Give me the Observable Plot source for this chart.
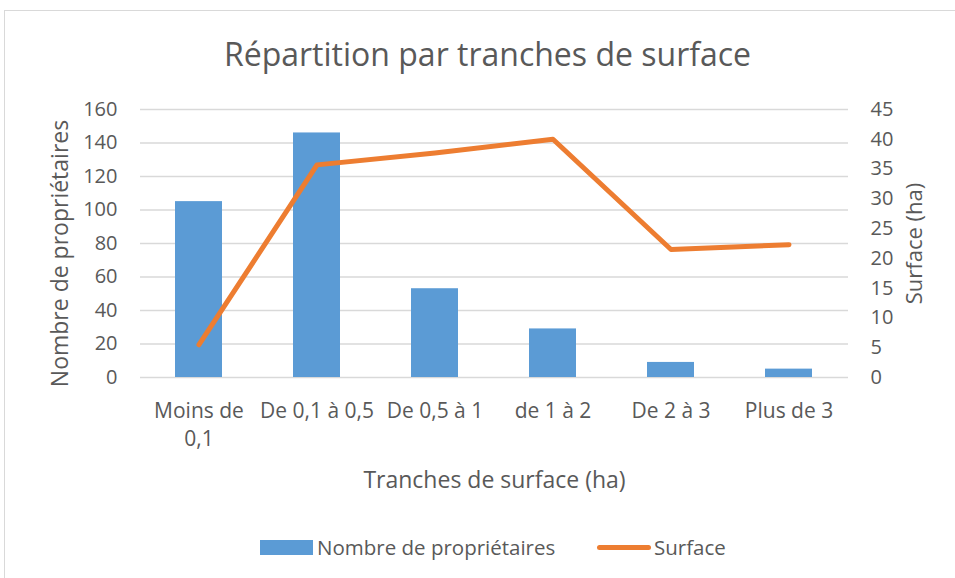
<!DOCTYPE html>
<html>
<head>
<meta charset="utf-8">
<script src="https://cdn.jsdelivr.net/npm/d3@7"></script>
<script src="https://cdn.jsdelivr.net/npm/@observablehq/plot@0.6"></script>
<style>
  html, body { margin: 0; padding: 0; background: #fff; }
  #root { position: relative; width: 955px; height: 578px; overflow: hidden; font-family: "Open Sans", sans-serif; color: #595959; }
  #border { position: absolute; left: 4px; top: 10px; width: 1000px; height: 600px; border: 1.5px solid #d9d9d9; box-sizing: border-box; }
  #title { position: absolute; left: 0; top: 32px; width: 975px; text-align: center; font-size: 32px; color: #595959; line-height: 44px; }
  #chart { position: absolute; left: 0; top: 90px; }
  #legend { position: absolute; top: 533px; left: 0; width: 955px; height: 30px; font-size: 20.5px; color: #595959; }
  .sw { position: absolute; }
</style>
</head>
<body>
<div id="root">
  <div id="border"></div>
  <div id="title">Répartition par tranches de surface</div>
  <div id="chart"></div>
  <div id="legend">
    <div class="sw" style="left:260px;top:7px;width:53px;height:15px;background:#5b9bd5"></div>
    <div class="sw" style="left:317px;top:0px;line-height:28px">Nombre de propriétaires</div>
    <div class="sw" style="left:597px;top:12px;width:54px;height:5px;border-radius:3px;background:#ed7d31"></div>
    <div class="sw" style="left:654px;top:0px;line-height:28px">Surface</div>
  </div>
</div>
<script>
const categories = ["Moins de 0,1", "De 0,1 à 0,5", "De 0,5 à 1", "de 1 à 2", "De 2 à 3", "Plus de 3"];
const categoryLabels = ["Moins de\n0,1", "De 0,1 à 0,5", "De 0,5 à 1", "de 1 à 2", "De 2 à 3", "Plus de 3"];
const proprietaires = [105, 146, 53, 29, 9, 5];
const surface = [5.5, 35.7, 37.7, 40, 21.5, 22.3];
const leftTicks = [0, 20, 40, 60, 80, 100, 120, 140, 160];
const rightTicks = [0, 5, 10, 15, 20, 25, 30, 35, 40, 45];
const leftTitle = "Nombre de propriétaires";
const rightTitle = "Surface (ha)";
const xTitle = "Tranches de surface (ha)";

const leftMax = 160, rightMax = 45;
const k = leftMax / rightMax;

const bars = categories.map((c, i) => ({cat: c, value: proprietaires[i]}));
const line = categories.map((c, i) => ({cat: c, value: surface[i] * k}));
const labelOf = new Map(categories.map((c, i) => [c, categoryLabels[i]]));

const chart = Plot.plot({
  width: 955,
  height: 410,
  marginLeft: 140,
  marginRight: 107,
  marginTop: 19,
  marginBottom: 123,
  style: {fontFamily: "Open Sans, sans-serif", fontSize: "20px", color: "#595959", background: "transparent"},
  x: {domain: categories, paddingInner: 0.6, paddingOuter: 0.3},
  y: {domain: [0, leftMax]},
  marks: [
    Plot.gridY(leftTicks, {stroke: "#d9d9d9", strokeOpacity: 1, strokeWidth: 1.5}),
    Plot.barY(bars, {x: "cat", y: "value", fill: "#5b9bd5"}),
    Plot.line(line, {x: "cat", y: "value", stroke: "#ed7d31", strokeWidth: 5, strokeLinecap: "round", strokeLinejoin: "round"}),
    Plot.axisY({ticks: leftTicks, tickSize: 0, tickPadding: 23, anchor: "left", label: null, fontSize: 20}),
    Plot.text([leftTitle], {frameAnchor: "left", rotate: -90, dx: -80, dy: 10, fontSize: 23, fill: "#595959", textAnchor: "middle"}),
    Plot.axisY({ticks: rightTicks.map(d => d * k), tickFormat: d => String(Math.round(d / k)), tickSize: 0, tickPadding: 22, anchor: "right", label: null, fontSize: 20}),
    Plot.axisY({ticks: [], anchor: "right", label: rightTitle, labelAnchor: "center", labelOffset: 73, labelArrow: "none", fontSize: 22}),
    Plot.axisX({tickSize: 0, tickPadding: 20, tickFormat: d => labelOf.get(d), lineHeight: 1.35, label: null, fontSize: 21}),
    Plot.axisX({ticks: [], label: xTitle, labelAnchor: "center", labelOffset: 110, labelArrow: "none", fontSize: 23})
  ]
});
document.getElementById("chart").appendChild(chart);
</script>
</body>
</html>
